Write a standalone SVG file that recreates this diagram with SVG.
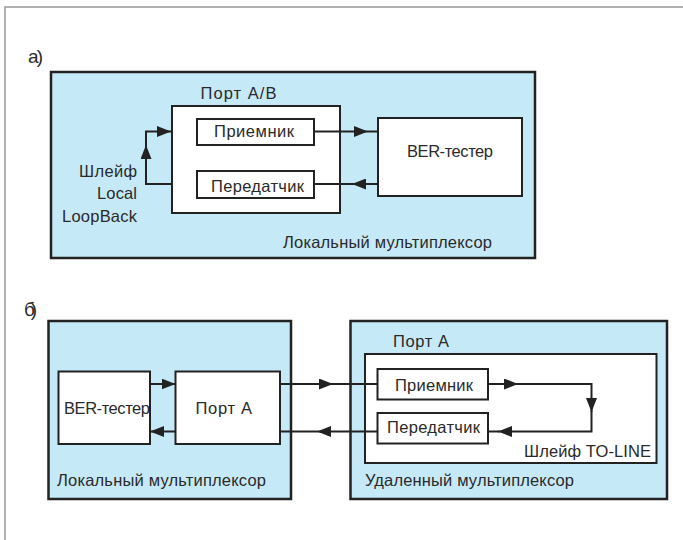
<svg xmlns="http://www.w3.org/2000/svg" width="683" height="540" viewBox="0 0 683 540">
<style>
text{font-family:"Liberation Sans","DejaVu Sans",sans-serif;font-size:16.5px;fill:#2a2a2a}
.panel{fill:#c6e9f8;stroke:#222;stroke-width:2.5}
.box{fill:#fff;stroke:#222;stroke-width:2}
.con{fill:none;stroke:#222;stroke-width:2;stroke-linejoin:miter}
.lbl{font-size:19px}
</style>
<defs>
<marker id="ah" viewBox="0 0 14 11" refX="14" refY="5.5" markerWidth="14" markerHeight="11" markerUnits="userSpaceOnUse" orient="auto">
<path d="M0,0 L14,5.5 L0,11 z" fill="#222"/>
</marker>
</defs>
<rect width="683" height="540" fill="#fff"/>
<rect x="5" y="7" width="700" height="560" fill="none" stroke="#999" stroke-width="1.5"/>

<text class="lbl" x="28" y="63" textLength="15">а)</text>
<text class="lbl" x="24" y="316" textLength="13">б)</text>

<g id="panel-a">
<rect class="panel" x="51" y="72" width="484" height="186"/>
<text x="283" y="248" textLength="209">Локальный мультиплексор</text>
</g>
<g id="port-ab">
<rect class="box" x="172" y="106" width="168" height="107"/>
<text x="200.5" y="99" textLength="76">Порт A/B</text>
</g>
<g id="rx-a">
<rect class="box" x="197" y="119" width="117" height="26"/>
<text x="214" y="137" textLength="80">Приемник</text>
</g>
<g id="tx-a">
<rect class="box" x="197" y="171" width="117" height="27"/>
<text x="211" y="192" textLength="93">Передатчик</text>
</g>
<g id="ber-a">
<rect class="box" x="378" y="118" width="144" height="78"/>
<text x="407" y="157" textLength="86">BER-тестер</text>
</g>
<g id="loop-label-a">
<text x="79" y="177" textLength="58">Шлейф</text>
<text x="97" y="199" textLength="40">Local</text>
<text x="62" y="222" textLength="75">LoopBack</text>
</g>

<g id="panel-b-local">
<rect class="panel" x="48.5" y="321" width="242.5" height="178"/>
<text x="57" y="486" textLength="209">Локальный мультиплексор</text>
</g>
<g id="ber-b">
<rect class="box" x="58.5" y="371.5" width="91.5" height="72.5"/>
<text x="64" y="414" textLength="86">BER-тестер</text>
</g>
<g id="port-b-local">
<rect class="box" x="175.5" y="371.5" width="104.5" height="72.5"/>
<text x="195.5" y="414" textLength="56.5">Порт A</text>
</g>
<g id="panel-b-remote">
<rect class="panel" x="350.5" y="321" width="316.5" height="178"/>
<text x="365" y="486" textLength="209">Удаленный мультиплексор</text>
</g>
<g id="port-b-remote">
<rect class="box" x="365" y="354" width="291.5" height="109"/>
<text x="393" y="347" textLength="56">Порт A</text>
<text x="524" y="457" textLength="127">Шлейф TO-LINE</text>
</g>
<g id="rx-b">
<rect class="box" x="377.5" y="369" width="110.5" height="30.5"/>
<text x="395" y="391" textLength="78">Приемник</text>
</g>
<g id="tx-b">
<rect class="box" x="377.5" y="413" width="110.5" height="30.5"/>
<text x="387" y="433" textLength="93">Передатчик</text>
</g>

<g id="connectors">
<path class="con" d="M314 131.5 L368 131.5 L378 131.5" marker-mid="url(#ah)"/>
<path class="con" d="M378 184 L352 184 L314 184" marker-mid="url(#ah)"/>
<path class="con" d="M172 184 H146 V145" marker-end="url(#ah)"/>
<path class="con" d="M146 146 V131.5 H171" marker-end="url(#ah)"/>
<path class="con" d="M150 384 H175.5" marker-end="url(#ah)"/>
<path class="con" d="M175.5 431.5 H150" marker-end="url(#ah)"/>
<path class="con" d="M280 384 L333 384 L377.5 384" marker-mid="url(#ah)"/>
<path class="con" d="M377.5 431.5 L317 431.5 L280 431.5" marker-mid="url(#ah)"/>
<path class="con" d="M488 384 H518" marker-end="url(#ah)"/>
<path class="con" d="M517 384 H591.5 V412" marker-end="url(#ah)"/>
<path class="con" d="M591.5 411 V431.5 H498" marker-end="url(#ah)"/>
<path class="con" d="M499 431.5 H488"/>
</g>
</svg>
